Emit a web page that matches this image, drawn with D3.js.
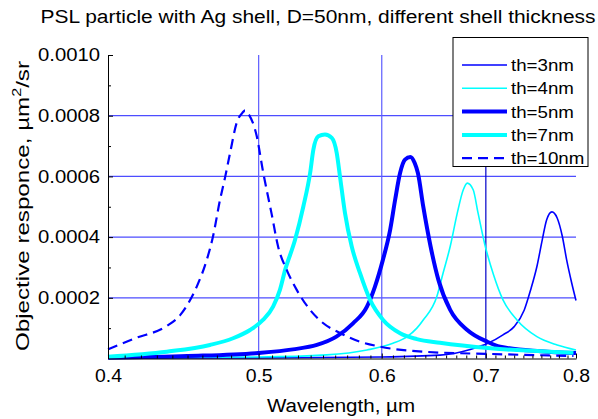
<!DOCTYPE html>
<html>
<head>
<meta charset="utf-8">
<script src="https://cdn.jsdelivr.net/npm/d3@7"></script>
<style>
  body { margin: 0; background: #fff; }
  svg { display: block; font-family: "Liberation Sans", Arial, Helvetica, sans-serif; }
</style>
</head>
<body>
<div id="chart-area"></div>
<script>
// data (wavelength in um, response in um^2/sr)
const seriesNames = ["th=3nm", "th=4nm", "th=5nm", "th=7nm", "th=10nm"]

const wlTh3 = [0.400, 0.500, 0.600, 0.654, 0.684, 0.702, 0.718, 0.730, 0.741, 0.748, 0.755, 0.761, 0.766, 0.772, 0.778, 0.784, 0.789, 0.795, 0.800]
const respTh3 = [0.0000015, 0.000002, 0.000005, 0.000011, 0.00003, 0.00005, 0.000078, 0.000105, 0.00016, 0.000226, 0.000303, 0.000391, 0.000457, 0.000483, 0.000463, 0.000402, 0.000325, 0.000248, 0.000191]

const wlTh4 = [0.400, 0.500, 0.553, 0.587, 0.610, 0.623, 0.632, 0.638, 0.651, 0.657, 0.664, 0.671, 0.677, 0.681, 0.687, 0.692, 0.699, 0.708, 0.718, 0.733, 0.755, 0.778, 0.800]
const respTh4 = [0.0000025, 0.000005, 0.000012, 0.000028, 0.00005, 0.000072, 0.0001, 0.000127, 0.000204, 0.000281, 0.000369, 0.000479, 0.000556, 0.000578, 0.000556, 0.000479, 0.000375, 0.000276, 0.000193, 0.000127, 0.000072, 0.0000446, 0.000028]

const wlTh5 = [0.400, 0.450, 0.4995, 0.526, 0.545, 0.561, 0.575, 0.587, 0.594, 0.601, 0.6075, 0.612, 0.6165, 0.621, 0.626, 0.630, 0.633, 0.638, 0.645, 0.6525, 0.664, 0.681, 0.702, 0.715, 0.759, 0.800]
const respTh5 = [0.0000026, 0.000008, 0.000018, 0.00003, 0.0000446, 0.000072, 0.000116, 0.000171, 0.000237, 0.000325, 0.000424, 0.000523, 0.000611, 0.000655, 0.000664, 0.000644, 0.000611, 0.000501, 0.000369, 0.000259, 0.00016, 0.000094, 0.0000545, 0.000039, 0.000024, 0.000018]

const wlTh7 = [0.400, 0.4364, 0.4652, 0.4814, 0.4937, 0.5032, 0.5108, 0.516, 0.520, 0.5277, 0.5342, 0.5396, 0.5422, 0.5462, 0.5516, 0.5572, 0.5613, 0.564, 0.5682, 0.5739, 0.581, 0.5897, 0.6012, 0.6165, 0.632, 0.654, 0.705, 0.797]
const respTh7 = [0.0000059, 0.0000224, 0.0000446, 0.0000667, 0.000094, 0.000127, 0.000171, 0.000226, 0.000292, 0.000391, 0.000501, 0.000611, 0.000688, 0.000732, 0.000738, 0.000727, 0.000677, 0.0006, 0.000479, 0.000369, 0.000281, 0.000193, 0.000127, 0.0000832, 0.000064, 0.000052, 0.0000337, 0.0000191]

const wlTh10 = [0.400, 0.4163, 0.4364, 0.445, 0.4503, 0.4562, 0.463, 0.4673, 0.4722, 0.4757, 0.4793, 0.484, 0.4886, 0.4900, 0.4922, 0.4986, 0.5032, 0.5098, 0.5146, 0.5212, 0.529, 0.5396, 0.55, 0.564, 0.581, 0.5986, 0.638, 0.705, 0.797]
const respTh10 = [0.0000304, 0.0000667, 0.000107, 0.000142, 0.00018, 0.000237, 0.000325, 0.000402, 0.000523, 0.000596, 0.000678, 0.000777, 0.000812, 0.000818, 0.000808, 0.000732, 0.000617, 0.000474, 0.000369, 0.000292, 0.000226, 0.00016, 0.000117, 0.0000842, 0.0000554, 0.000039, 0.0000224, 0.0000149, 0.0000083]

const xTicks = [0.4, 0.5, 0.6, 0.7, 0.8]
const yTicks = [0.0002, 0.0004, 0.0006, 0.0008, 0.0010]

// sizes
const MARGIN = { LEFT: 108, RIGHT: 22, TOP: 55, BOTTOM: 60.5 }
const WIDTH = 598 - MARGIN.LEFT - MARGIN.RIGHT
const HEIGHT = 419 - MARGIN.TOP - MARGIN.BOTTOM

// the reference letters are drawn wider than Liberation Sans, so stretch them a bit
const stretch = (sel, k) => sel.each(function () {
  const w = this.getComputedTextLength()
  d3.select(this).attr("textLength", w * k).attr("lengthAdjust", "spacingAndGlyphs")
})

const svg = d3.select("#chart-area").append("svg")
  .attr("width", 598)
  .attr("height", 419)

const group = svg.append("g")
  .attr("transform", `translate(${MARGIN.LEFT}, ${MARGIN.TOP})`)

const x = d3.scaleLog().domain([0.4, 0.8]).range([0, WIDTH])
const y = d3.scaleLinear().domain([0, 0.001]).range([HEIGHT, 0])

// grid
group.selectAll(".hgrid").data(yTicks.slice(0, 4)).enter().append("line")
  .attr("x1", 0).attr("x2", WIDTH)
  .attr("y1", d => y(d)).attr("y2", d => y(d))
  .attr("stroke", "#4d4dff").attr("stroke-width", 1.2)
group.selectAll(".vgrid").data([0.5, 0.6, 0.7]).enter().append("line")
  .attr("x1", d => x(d)).attr("x2", d => x(d))
  .attr("y1", 0).attr("y2", HEIGHT)
  .attr("stroke", d => d === 0.7 ? "#0000c8" : "#5c5cff").attr("stroke-width", 1.2)

// curves
const series = [
  { name: seriesNames[0], wl: wlTh3, v: respTh3, color: "#0000ff", w: 1.6, dash: null },
  { name: seriesNames[1], wl: wlTh4, v: respTh4, color: "#00ffff", w: 1.6, dash: null },
  { name: seriesNames[2], wl: wlTh5, v: respTh5, color: "#0000ff", w: 4, dash: null },
  { name: seriesNames[3], wl: wlTh7, v: respTh7, color: "#00ffff", w: 4, dash: null },
  { name: seriesNames[4], wl: wlTh10, v: respTh10, color: "#0000ff", w: 2.2, dash: "10,6" }
]

const line = d3.line()
  .x(d => x(d[0]))
  .y(d => y(d[1]))
  .curve(d3.curveMonotoneX)

series.forEach(s => {
  group.append("path")
    .datum(s.wl.map((w, i) => [w, s.v[i]]))
    .attr("fill", "none")
    .attr("stroke", s.color)
    .attr("stroke-width", s.w)
    .attr("stroke-dasharray", s.dash)
    .attr("stroke-linejoin", "round")
    .attr("d", line)
})

// axes
const yAxis = group.append("g")
  .call(d3.axisLeft(y).tickValues(yTicks).tickSizeInner(-5).tickSizeOuter(0).tickPadding(8).tickFormat(d3.format(".4f")))
yAxis.selectAll("text").attr("font-size", "18px").attr("fill", "#000").attr("font-family", null)
  .attr("textLength", 62).attr("lengthAdjust", "spacingAndGlyphs")
group.append("g")
  .call(d3.axisLeft(y).tickValues(d3.range(1, 10, 2).map(d => d / 10000)).tickSizeInner(-3).tickSizeOuter(0).tickFormat(""))
  .select(".domain").remove()

const xAxis = group.append("g")
  .attr("transform", `translate(0, ${HEIGHT})`)
  .call(d3.axisBottom(x).tickValues(xTicks).tickSizeInner(-5).tickSizeOuter(0).tickPadding(11).tickFormat(d3.format(".1f")))
xAxis.selectAll("text").attr("font-size", "18px").attr("fill", "#000").attr("font-family", null)
  .attr("textLength", 27).attr("lengthAdjust", "spacingAndGlyphs")
group.append("g")
  .attr("transform", `translate(0, ${HEIGHT})`)
  .call(d3.axisBottom(x).tickValues(d3.range(41, 80).filter(d => d % 10 !== 0).map(d => d / 100)).tickSizeInner(-3).tickSizeOuter(0).tickFormat(""))
  .select(".domain").remove()

// legend
const legend = svg.append("g").attr("transform", "translate(453, 37.5)")
legend.append("rect")
  .attr("width", 135).attr("height", 129)
  .attr("fill", "#fff").attr("stroke", "#000").attr("stroke-width", 1)
series.forEach((s, i) => {
  const ly = 27.5 + i * 23.3
  legend.append("line")
    .attr("x1", 9).attr("x2", 54).attr("y1", ly).attr("y2", ly)
    .attr("stroke", s.color).attr("stroke-width", s.w)
    .attr("stroke-dasharray", s.dash)
  legend.append("text")
    .attr("x", 58).attr("y", ly + 6)
    .attr("font-size", "17px")
    .text(s.name)
    .call(stretch, 1.1)
})

// titles
svg.append("text")
  .attr("x", 318).attr("y", 23)
  .attr("text-anchor", "middle")
  .attr("font-size", "18px")
  .attr("textLength", 555).attr("lengthAdjust", "spacingAndGlyphs")
  .text("PSL particle with Ag shell, D=50nm, different shell thickness")

svg.append("text")
  .attr("x", 341).attr("y", 412)
  .attr("text-anchor", "middle")
  .attr("font-size", "18px")
  .attr("textLength", 148).attr("lengthAdjust", "spacingAndGlyphs")
  .text("Wavelength, \u00b5m")

const yLabel = svg.append("text")
  .attr("transform", "translate(29, 206) rotate(-90)")
  .attr("text-anchor", "middle")
  .attr("font-size", "18px")
yLabel.append("tspan").text("Objective responce, \u00b5m")
yLabel.append("tspan").attr("font-size", "12px").attr("dy", "-8").text("2")
yLabel.append("tspan").attr("dy", "8").text("/sr")
yLabel.attr("textLength", 290).attr("lengthAdjust", "spacingAndGlyphs")
</script>
</body>
</html>
